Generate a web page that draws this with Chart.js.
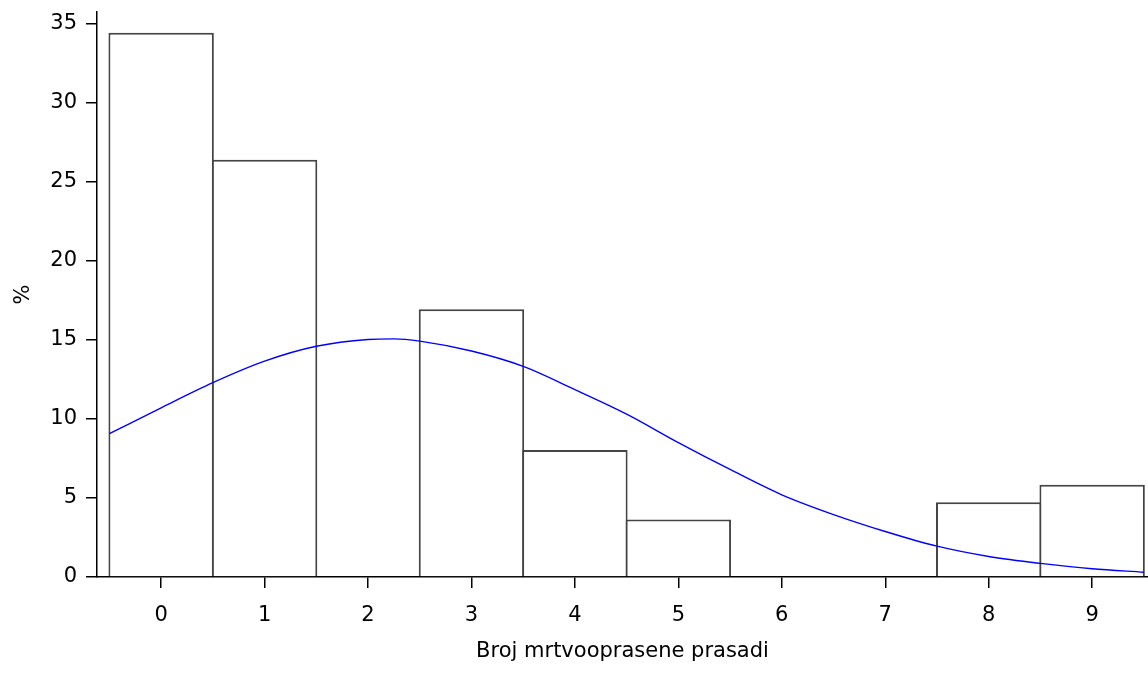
<!DOCTYPE html>
<html>
<head>
<meta charset="utf-8">
<script src="https://cdn.jsdelivr.net/npm/chart.js@4.4.1/dist/chart.umd.min.js"></script>
<style>
    html, body { margin: 0; padding: 0; background: #fff; }
    #wrap { width: 1148px; height: 673px; }
</style>
</head>
<body>
<div id="wrap"><canvas id="histChart" width="1148" height="673"></canvas></div>
<script>
// histogram bins (number of stillborn piglets) and their share in %
const binCenters = [0, 1, 2, 3, 4, 5, 6, 7, 8, 9];
const percentValues = [34.42, 26.38, 0, 16.93, 8.03, 3.64, 0, 0, 4.73, 5.83];

// fitted normal curve
const curveX = [-0.5, 0, 0.5, 1, 1.5, 2, 2.25, 2.5, 3, 3.5, 4, 4.5, 5, 5.5, 6, 6.5, 7, 7.5, 8, 8.5, 9, 9.5];
const curveY = [9.06, 10.7, 12.29, 13.65, 14.59, 15.02, 15.06, 14.92, 14.29, 13.32, 11.85, 10.3, 8.5, 6.8, 5.2, 3.95, 2.88, 1.95, 1.3, 0.86, 0.52, 0.3];

const yTicks = [0, 5, 10, 15, 20, 25, 30, 35];
const xTitle = 'Broj mrtvooprasene prasadi';
const yTitle = '%';

const font = { family: 'DejaVu Sans', size: 21 };

new Chart(document.getElementById('histChart'), {
    type: 'bar',
    data: {
        datasets: [
            {
                type: 'line',
                data: curveX.map((x, i) => ({ x, y: curveY[i] })),
                borderColor: '#0000ff',
                borderWidth: 1.4,
                pointRadius: 0,
                cubicInterpolationMode: 'monotone',
                order: 0
            },
            {
                data: binCenters.map((x, i) => ({ x, y: percentValues[i] })),
                backgroundColor: '#ffffff',
                borderColor: '#444444',
                borderWidth: 2,
                // slight overlap so neighbouring borders merge into one line
                barPercentage: 1.019,
                categoryPercentage: 1,
                order: 1
            }
        ]
    },
    options: {
        responsive: false,
        animation: false,
        layout: { padding: { top: 12, right: 0, left: 0, bottom: 0 } },
        plugins: { legend: { display: false }, tooltip: { enabled: false } },
        scales: {
            x: {
                type: 'linear',
                offset: false,
                min: -0.62,
                max: 9.54,
                afterBuildTicks: (s) => { s.ticks = binCenters.map(v => ({ value: v })); },
                afterFit: (s) => { s.height = 96; s.paddingRight = 0; },
                border: { display: true, color: '#000', width: 1.5 },
                grid: { offset: false, drawOnChartArea: false, color: '#000', tickLength: 11, lineWidth: 1.5 },
                ticks: { color: '#000', font, padding: 15, maxRotation: 0 },
                title: { display: true, text: xTitle, color: '#000', font, padding: { top: 0, bottom: 9 } }
            },
            y: {
                type: 'linear',
                min: 0,
                max: 35.73,
                afterBuildTicks: (s) => { s.ticks = yTicks.map(v => ({ value: v })); },
                afterFit: (s) => { s.width = 97; s.paddingTop = 0; },
                border: { display: true, color: '#000', width: 1.5 },
                grid: { drawOnChartArea: false, color: '#000', tickLength: 11, lineWidth: 1.5 },
                ticks: { color: '#000', font, padding: 9 },
                title: { display: true, text: yTitle, color: '#000', font, padding: { top: 11, bottom: 0 } }
            }
        }
    }
});
</script>
</body>
</html>
